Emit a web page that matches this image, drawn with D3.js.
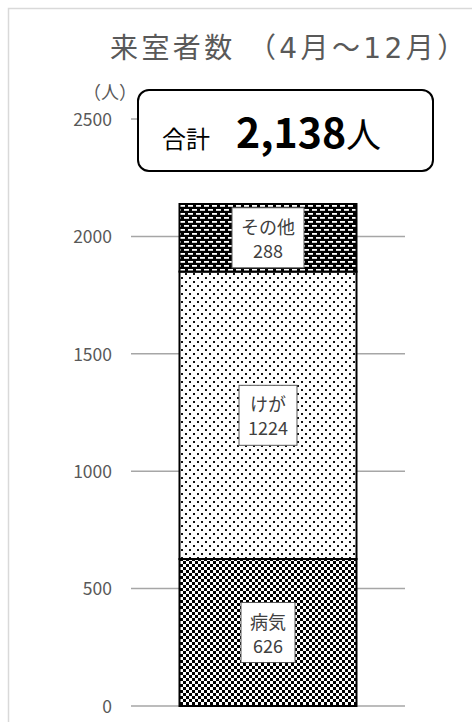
<!DOCTYPE html>
<html>
<head>
<meta charset="utf-8">
<script src="https://cdn.jsdelivr.net/npm/d3@7"></script>
<style>
  html, body { margin: 0; padding: 0; background: #fff; }
  svg { display: block; }
</style>
</head>
<body>
<svg id="chart" width="472" height="722"></svg>
<script>
// Visitors to the health room, April to December, stacked by reason
const categories = ["病気", "けが", "その他"];
const values = [626, 1224, 288];
const yTicks = [0, 500, 1000, 1500, 2000, 2500];
const titleText = "来室者数 （4月～12月）";
const unitText = "（人）";

const svg = d3.select("#chart");
const font = "'Noto Sans CJK JP', 'Noto Sans', sans-serif";
const grey = "#595959";

// Outer frame
svg.append("rect")
  .attr("x", 8.5).attr("y", 8.5)
  .attr("width", 500).attr("height", 740)
  .attr("fill", "none").attr("stroke", "#d9d9d9").attr("stroke-width", 1.5);

// Fill patterns
const defs = svg.append("defs");

// checker for 病気
const pChk = defs.append("pattern").attr("id", "pat-check")
  .attr("patternUnits", "userSpaceOnUse").attr("width", 6).attr("height", 6);
pChk.append("rect").attr("width", 6).attr("height", 6).attr("fill", "#fff");
pChk.append("rect").attr("x", 0).attr("y", 0).attr("width", 3).attr("height", 3).attr("fill", "#000");
pChk.append("rect").attr("x", 3).attr("y", 3).attr("width", 3).attr("height", 3).attr("fill", "#000");

// sparse dots for けが
const pDot = defs.append("pattern").attr("id", "pat-dots")
  .attr("patternUnits", "userSpaceOnUse").attr("width", 8).attr("height", 8);
pDot.append("rect").attr("width", 8).attr("height", 8).attr("fill", "#fff");
pDot.append("rect").attr("x", 1).attr("y", 1).attr("width", 2).attr("height", 2).attr("fill", "#111");
pDot.append("rect").attr("x", 5).attr("y", 5).attr("width", 2).attr("height", 2).attr("fill", "#111");

// dashed bricks for その他
const pDash = defs.append("pattern").attr("id", "pat-dash")
  .attr("patternUnits", "userSpaceOnUse").attr("width", 8).attr("height", 8);
pDash.append("rect").attr("width", 8).attr("height", 8).attr("fill", "#000");
pDash.append("rect").attr("x", 0).attr("y", 1).attr("width", 5).attr("height", 1.8).attr("fill", "#fff");
pDash.append("rect").attr("x", 4).attr("y", 5).attr("width", 5).attr("height", 1.8).attr("fill", "#fff");
pDash.append("rect").attr("x", -4).attr("y", 5).attr("width", 5).attr("height", 1.8).attr("fill", "#fff");

const fills = ["url(#pat-check)", "url(#pat-dots)", "url(#pat-dash)"];

// Scales
const x = d3.scaleBand().domain(["total"]).range([131, 405])
  .paddingInner(0).paddingOuter(0.274);
const y = d3.scaleLinear().domain([0, 2500]).range([706, 119]);

// Gridlines
svg.append("g").selectAll("line").data(yTicks).join("line")
  .attr("x1", 131).attr("x2", 405)
  .attr("y1", d => y(d)).attr("y2", d => y(d))
  .attr("stroke", "#a6a6a6").attr("stroke-width", 1.5);

// Y axis labels
const yAxis = d3.axisLeft(y).tickValues(yTicks).tickFormat(d3.format("d"))
  .tickSize(0).tickPadding(0);
const gy = svg.append("g").attr("transform", "translate(112,0)").call(yAxis);
gy.select(".domain").remove();
gy.selectAll("text")
  .attr("font-family", font).attr("font-size", 17.5).attr("fill", grey)
  .attr("dy", "0.36em");

// Unit label
svg.append("text").attr("x", 110).attr("y", 99)
  .attr("text-anchor", "middle")
  .attr("font-family", font).attr("font-size", 18).attr("fill", grey)
  .text(unitText);

// Stack
const rows = categories.map((c, i) => ({ cat: c, v: values[i] }));
let acc = 0;
rows.forEach(r => { r.y0 = acc; acc += r.v; r.y1 = acc; });
const total = acc;

const bx = x("total"), bw = x.bandwidth();
svg.append("g").selectAll("rect").data(rows).join("rect")
  .attr("x", bx).attr("width", bw)
  .attr("y", d => y(d.y1)).attr("height", d => y(d.y0) - y(d.y1))
  .attr("fill", (d, i) => fills[i])
  .attr("stroke", "#000").attr("stroke-width", 2);

// Segment labels
const lbl = svg.append("g").selectAll("g").data(rows).join("g")
  .attr("transform", d => `translate(${bx + bw / 2},${(y(d.y0) + y(d.y1)) / 2})`);
lbl.append("rect").attr("class", "bg")
  .attr("fill", "#fff").attr("stroke", "#595959").attr("stroke-width", 1);
lbl.append("text").attr("class", "l1").attr("y", -4)
  .attr("text-anchor", "middle").attr("font-family", font)
  .attr("font-size", 18).attr("fill", "#404040").text(d => d.cat);
lbl.append("text").attr("class", "l2").attr("y", 20)
  .attr("text-anchor", "middle").attr("font-family", font)
  .attr("font-size", 18).attr("fill", "#404040").text(d => d.v);
lbl.each(function () {
  const g = d3.select(this);
  const w = Math.max(g.select(".l1").node().getComputedTextLength(),
                     g.select(".l2").node().getComputedTextLength()) + 18;
  g.select(".bg").attr("x", -w / 2).attr("y", -30).attr("width", w).attr("height", 60);
});

// Title
svg.append("text").attr("x", 110).attr("y", 58)
  .attr("font-family", "'DejaVu Sans', 'Noto Sans CJK JP', sans-serif")
  .attr("font-size", 28).attr("fill", grey)
  .attr("letter-spacing", 3.4)
  .text(titleText);

// Total box
svg.append("rect").attr("x", 138).attr("y", 90).attr("width", 295).attr("height", 81)
  .attr("rx", 11).attr("fill", "#fff").attr("stroke", "#000").attr("stroke-width", 2);
const tt = svg.append("text").attr("x", 162).attr("y", 148)
  .attr("font-family", font).attr("fill", "#000");
tt.append("tspan").attr("font-size", 24).text("合計");
tt.append("tspan").attr("dx", 26).attr("font-size", 41).attr("font-weight", 700)
  .text(d3.format(",")(total));
tt.append("tspan").attr("dx", 0).attr("font-size", 35).text("人");
</script>
</body>
</html>
